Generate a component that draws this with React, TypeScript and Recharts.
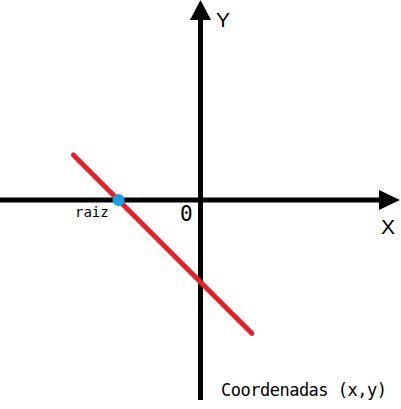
import React from "react";
import { ComposedChart, Line, Scatter, XAxis, YAxis } from "recharts";

// ---- data (in coordinate units) ----
const redLineX = [-3.1, 1.25];
const redLineY = [1.1, -3.25];
const rootX = [-2];
const rootY = [0];
const xAxisSpanX = [-4.9, 4.36];
const yAxisSpanY = [-4.88, 4.4];
const xArrowBase = [4.354];
const yArrowBase = [4.39];

const labelTexts = {
  x: "X",
  y: "Y",
  origin: "0",
  root: "raiz",
  title: "Coordenadas (x,y)",
};

// ---- layout ----
const W = 401;
const H = 409;
const UNIT = 41;
const OX = 200.5;
const OY = 200;
const xDomain: [number, number] = [-OX / UNIT, (W - OX) / UNIT];
const yDomain: [number, number] = [(OY - H) / UNIT, OY / UNIT];

const redLine = redLineX.map((x, i) => ({ x, y: redLineY[i] }));
const rootPts = rootX.map((x, i) => ({ x, y: rootY[i] }));
const hAxis = xAxisSpanX.map((x) => ({ x, y: 0 }));
const vAxis = yAxisSpanY.map((y) => ({ x: 0, y }));
const rightArrow = xArrowBase.map((x) => ({ x, y: 0 }));
const upArrow = yArrowBase.map((y) => ({ x: 0, y }));

const RightHead = (p: any) => {
  const { cx, cy } = p;
  return (
    <polygon
      points={`${cx},${cy - 10} ${cx},${cy + 10} ${cx + 21},${cy}`}
      fill="#000"
    />
  );
};
const UpHead = (p: any) => {
  const { cx, cy } = p;
  return (
    <polygon
      points={`${cx - 10.5},${cy} ${cx + 10.5},${cy} ${cx},${cy - 20}`}
      fill="#000"
    />
  );
};
const RootDot = (p: any) => {
  const { cx, cy } = p;
  return <circle cx={cx} cy={cy} r={6} fill="#1a9fe3" />;
};

const mono = "'DejaVu Sans Mono', monospace";
const sans = "'Liberation Sans', Arial, sans-serif";

export default function App() {
  return (
    <div style={{ position: "absolute", left: 0, top: 0, width: W, height: H, background: "#fff" }}>
      <ComposedChart width={W} height={H} margin={{ top: 0, right: 0, bottom: 0, left: 0 }}>
        <XAxis type="number" dataKey="x" domain={xDomain} hide allowDataOverflow />
        <YAxis type="number" dataKey="y" domain={yDomain} hide allowDataOverflow />
        <Line data={hAxis} dataKey="y" stroke="#000" strokeWidth={5} dot={false} isAnimationActive={false} strokeLinecap="butt" />
        <Line data={vAxis} dataKey="y" stroke="#000" strokeWidth={5} dot={false} isAnimationActive={false} strokeLinecap="butt" />
        <Scatter data={rightArrow} shape={RightHead} isAnimationActive={false} />
        <Scatter data={upArrow} shape={UpHead} isAnimationActive={false} />
        <Line data={redLine} dataKey="y" stroke="#e5202a" strokeWidth={5} dot={false} isAnimationActive={false} strokeLinecap="round" />
        <Scatter data={rootPts} shape={RootDot} isAnimationActive={false} />
      </ComposedChart>
      <svg width={W} height={H} style={{ position: "absolute", left: 0, top: 0, pointerEvents: "none" }}>
        <text x={216} y={27} fontSize={21} fontFamily={sans} fill="#000">{labelTexts.y}</text>
        <text x={381} y={234} fontSize={21} fontFamily={sans} fill="#000">{labelTexts.x}</text>
        <text x={180} y={221} fontSize={21} fontFamily={mono} fill="#000">{labelTexts.origin}</text>
        <text x={75} y={217} fontSize={14} fontFamily={mono} fill="#000">{labelTexts.root}</text>
        <text x={221} y={396} fontSize={17} letterSpacing={-0.5} fontFamily={mono} fill="#000">{labelTexts.title}</text>
      </svg>
    </div>
  );
}
